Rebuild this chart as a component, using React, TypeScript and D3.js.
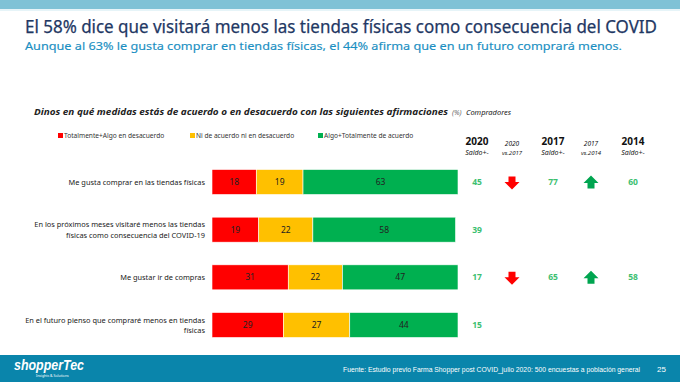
import React from "react";
import * as d3 from "d3";

const categories = [
  ["Me gusta comprar en las tiendas físicas"],
  ["En los próximos meses visitaré menos las tiendas", "físicas como consecuencia del COVID-19"],
  ["Me gustar ir de compras"],
  ["En el futuro pienso que compraré menos en tiendas", "físicas"],
];
const desacuerdo = [18, 19, 31, 29];
const neutral = [19, 22, 22, 27];
const acuerdo = [63, 58, 47, 44];
const saldo2020 = ["45", "39", "17", "15"];
const arrow2020vs2017 = ["down", "", "down", ""];
const saldo2017 = ["77", "", "65", ""];
const arrow2017vs2014 = ["up", "", "up", ""];
const saldo2014 = ["60", "", "58", ""];
const seriesNames = ["Totalmente+Algo en desacuerdo", "Ni de acuerdo ni en desacuerdo", "Algo+Totalmente de acuerdo"];
const seriesColors = ["#ff0000", "#ffc000", "#00b050"];

const FONT = "Noto Sans, DejaVu Sans, sans-serif";

export default function App() {
  const W = 680, H = 382;
  const x = d3.scaleLinear().domain([0, 100]).range([212, 458]);
  const keys = categories.map((_, i) => String(i));
  const y = d3.scalePoint<string>().domain(keys).range([182, 325]);
  const barH = 25;
  const stackData = categories.map((_, i) => ({ a: desacuerdo[i], b: neutral[i], c: acuerdo[i] }));
  const stack = d3.stack<any>().keys(["a", "b", "c"])(stackData);

  const colX = { s20: 477, a1: 512, s17: 553, a2: 591, s14: 633 };

  const arrowPath = (cx: number, cy: number, dir: string) => {
    const w = 7.5, sw = 3.5, h = 6.5;
    if (dir === "down") {
      return `M${cx - sw},${cy - h} L${cx + sw},${cy - h} L${cx + sw},${cy - 1} L${cx + w},${cy - 1} L${cx},${cy + h} L${cx - w},${cy - 1} L${cx - sw},${cy - 1} Z`;
    }
    return `M${cx - sw},${cy + h} L${cx + sw},${cy + h} L${cx + sw},${cy + 1} L${cx + w},${cy + 1} L${cx},${cy - h} L${cx - w},${cy + 1} L${cx - sw},${cy + 1} Z`;
  };

  return (
    <svg width={W} height={H} style={{ position: "absolute", left: 0, top: 0, background: "#fff" }} fontFamily={FONT}>
      <rect x={0} y={0} width={W} height={9} fill="#7fc2d6" />
      <rect x={0} y={9} width={W} height={2} fill="#e6f4f8" />
      <text x={25} y={33} fontSize={17.5} fill="#1f3864" stroke="#1f3864" strokeWidth={0.25} textLength={632} lengthAdjust="spacingAndGlyphs">
        El 58% dice que visitará menos las tiendas físicas como consecuencia del COVID
      </text>
      <text x={25} y={50} fontSize={11.5} fill="#1a8fc2" stroke="#1a8fc2" strokeWidth={0.15} textLength={597} lengthAdjust="spacingAndGlyphs">
        Aunque al 63% le gusta comprar en tiendas físicas, el 44% afirma que en un futuro comprará menos.
      </text>

      <text x={34} y={115} fontSize={9.2} fontWeight="bold" fontStyle="italic" fill="#222" textLength={414} lengthAdjust="spacingAndGlyphs">
        Dinos en qué medidas estás de acuerdo o en desacuerdo con las siguientes afirmaciones
      </text>
      <text x={452} y={115} fontSize={7} fontStyle="italic" fill="#666">(%)</text>
      <text x={466} y={115} fontSize={7.5} fontStyle="italic" fill="#222">Compradores</text>

      {seriesNames.map((n, i) => {
        const lx = [58, 190, 318][i];
        return (
          <g key={n}>
            <rect x={lx} y={133} width={5} height={5} fill={seriesColors[i]} />
            <text x={lx + 6} y={138} fontSize={6.6} fill="#333">{n}</text>
          </g>
        );
      })}

      {[
        { t1: "2020", t2: "Saldo+-", cx: colX.s20, big: true },
        { t1: "2020", t2: "vs.2017", cx: colX.a1, big: false },
        { t1: "2017", t2: "Saldo+-", cx: colX.s17, big: true },
        { t1: "2017", t2: "vs.2014", cx: colX.a2, big: false },
        { t1: "2014", t2: "Saldo+-", cx: colX.s14, big: true },
      ].map((h, i) => (
        <g key={i}>
          <text x={h.cx} y={h.big ? 145 : 146} textAnchor="middle" fontSize={h.big ? 10 : 6.5} fontWeight={h.big ? "bold" : "normal"} fontStyle={h.big ? "normal" : "italic"} fill="#111">{h.t1}</text>
          <text x={h.cx} y={155} textAnchor="middle" fontSize={h.big ? 7 : 6} fontStyle="italic" fill="#222">{h.t2}</text>
        </g>
      ))}

      {stack.map((s, si) => (
        <g key={si}>
          {s.map((d, i) => (
            <g key={i}>
              <rect x={x(d[0])} y={y(String(i))! - barH / 2} width={x(d[1]) - x(d[0])} height={barH} fill={seriesColors[si]} stroke="#ffffff" strokeWidth={0.6} />
              <text x={(x(d[0]) + x(d[1])) / 2} y={y(String(i))! + 3} textAnchor="middle" fontSize={8.5} fill="#222">{d[1] - d[0]}</text>
            </g>
          ))}
        </g>
      ))}

      {categories.map((lines, i) => {
        const cy = y(String(i))!;
        const y0 = lines.length === 1 ? cy + 3 : cy - 2.5;
        return (
          <g key={i}>
            {lines.map((l, li) => (
              <text key={li} x={205} y={y0 + li * 10.5} textAnchor="end" fontSize={7.4} fill="#222">{l}</text>
            ))}
            <text x={colX.s20} y={cy + 3} textAnchor="middle" fontSize={8.5} fontWeight="bold" fill="#3cc070">{saldo2020[i]}</text>
            {saldo2017[i] && <text x={colX.s17} y={cy + 3} textAnchor="middle" fontSize={8.5} fontWeight="bold" fill="#3cc070">{saldo2017[i]}</text>}
            {saldo2014[i] && <text x={colX.s14} y={cy + 3} textAnchor="middle" fontSize={8.5} fontWeight="bold" fill="#3cc070">{saldo2014[i]}</text>}
            {arrow2020vs2017[i] && <path d={arrowPath(colX.a1, cy + 1, arrow2020vs2017[i])} fill={arrow2020vs2017[i] === "down" ? "#ff0000" : "#00a550"} />}
            {arrow2017vs2014[i] && <path d={arrowPath(colX.a2, cy, arrow2017vs2014[i])} fill={arrow2017vs2014[i] === "down" ? "#ff0000" : "#00a550"} />}
          </g>
        );
      })}

      <rect x={0} y={355} width={W} height={27} fill="#0a85ab" />
      <text x={14} y={370} fontSize={15} fontWeight="bold" fontStyle="italic" fill="#fff" fontFamily="Liberation Sans, sans-serif" textLength={70} lengthAdjust="spacingAndGlyphs">shopperTec</text>
      <text x={36} y={377} fontSize={3.5} fill="#fff">Insights &amp; Solutions</text>
      <text x={343} y={372} fontSize={6.4} fill="#fff" fontFamily="Liberation Sans, sans-serif" textLength={297} lengthAdjust="spacingAndGlyphs">Fuente: Estudio previo Farma Shopper post COVID_julio 2020: 500 encuestas a población general</text>
      <text x={657} y={372} fontSize={8} fill="#fff" fontFamily="Liberation Sans, sans-serif">25</text>
    </svg>
  );
}
